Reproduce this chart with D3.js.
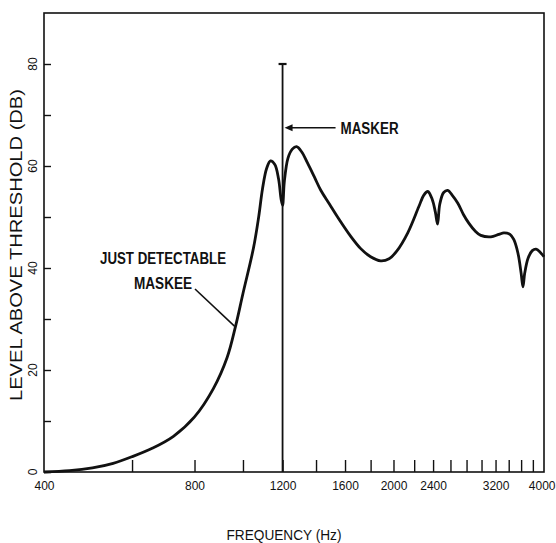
<!DOCTYPE html>
<html>
<head>
<meta charset="utf-8">
<script src="https://cdn.jsdelivr.net/npm/d3@7"></script>
<style>
  html, body { margin: 0; padding: 0; background: #fff; }
  svg { display: block; }
</style>
</head>
<body>
<svg id="chart" width="556" height="543"></svg>
<script>
// ---- data ----
const freqs = [400,450,500,550,600,660,726,800,872,930,966,1000,1050,1075,1094,1115,1135,1158,1178,1192,1200,1210,1230,1255,1280,1310,1346,1390,1430,1490,1546,1640,1720,1800,1885,1960,2030,2136,2247,2300,2342,2390,2425,2450,2475,2520,2568,2620,2690,2760,2829,2910,2990,3132,3250,3326,3420,3480,3548,3600,3631,3660,3720,3790,3856,3930,4000];
const levels = [0,0.25,0.8,1.7,3.0,4.7,7.0,10.8,16.3,22.5,28.5,35,44,50,55.5,59.5,61,60.3,57.5,53.5,52.3,57,61.5,63.3,63.8,62.8,60.6,57.8,55.3,52.5,50,46.3,43.8,42.2,41.4,41.8,43.3,46.9,52,54.3,55,53.5,51,48.6,52.5,54.8,55.2,54.3,52.7,50.5,48.8,47.3,46.4,46.1,46.6,46.9,46.6,45.6,42.9,39,36.3,39,42,43.4,43.7,43.1,42.2];
const xTickValues = [600,800,1000,1200,1400,1600,1800,2000,2200,2400,2600,2800,3000,3200,3400,3600,3800];
const xLabelValues = [400,800,1200,1600,2000,2400,3200,4000];
const yTickValues = [0,10,20,30,40,50,60,70,80];
const yLabelValues = [0,20,40,60,80];
const maskerFreq = 1200;
const maskerLevel = 80;
const maskeeAnnotFreq = 966;
const maskeeAnnotLevel = 29;
const maskerAnnotLevel = 67.5;

// ---- layout ----
const svg = d3.select("#chart");
const pLeft = 44, pRight = 544, pTop = 13, pBottom = 472;
const x = d3.scaleLog().domain([400, 4000]).range([pLeft, pRight]);
const y = d3.scaleLinear().domain([0, 90]).range([pBottom, pTop]);
const ink = "#111";
const narrow = "'Liberation Sans Narrow','Arial Narrow','Liberation Sans',Arial,sans-serif";

// frame
svg.append("rect")
  .attr("x", pLeft).attr("y", pTop)
  .attr("width", pRight - pLeft).attr("height", pBottom - pTop)
  .attr("fill", "none").attr("stroke", ink).attr("stroke-width", 1.6);

// x ticks (inward)
const xAxis = svg.append("g").attr("transform", `translate(0,${pBottom})`)
  .call(d3.axisBottom(x).tickValues(xTickValues).tickSizeInner(-12).tickSizeOuter(0).tickFormat(""));
xAxis.select(".domain").remove();
xAxis.selectAll(".tick line").attr("stroke", ink).attr("stroke-width", 1.4);

// x labels
const xLab = svg.append("g").attr("transform", `translate(0,${pBottom})`)
  .call(d3.axisBottom(x).tickValues(xLabelValues).tickSize(0).tickPadding(9).tickFormat(d3.format("d")));
xLab.select(".domain").remove();
xLab.attr("font-family", null).attr("font-size", null);
xLab.selectAll("text")
  .attr("font-size", 12).attr("fill", ink)
  .style("font-family", narrow)
  .attr("text-anchor", d => d === 4000 ? "end" : "middle")
  .attr("dx", d => d === 4000 ? 11 : 0);

// y ticks (inward)
const yAxis = svg.append("g").attr("transform", `translate(${pLeft},0)`)
  .call(d3.axisLeft(y).tickValues(yTickValues).tickSizeInner(-7).tickSizeOuter(0).tickFormat(""));
yAxis.select(".domain").remove();
yAxis.selectAll(".tick line").attr("stroke", ink).attr("stroke-width", 1.4);

// y labels (rotated)
svg.append("g").selectAll("text").data(yLabelValues).join("text")
  .attr("transform", d => `translate(37,${y(d)}) rotate(-90)`)
  .attr("text-anchor", "middle")
  .attr("font-size", 12).attr("fill", ink)
  .style("font-family", narrow)
  .text(d => d);

// y title
svg.append("text")
  .attr("transform", `translate(22,245) rotate(-90)`)
  .attr("text-anchor", "middle")
  .attr("font-size", 17).attr("fill", ink)
  .style("font-family", "'Liberation Sans',Arial,sans-serif")
  .attr("textLength", 312).attr("lengthAdjust", "spacingAndGlyphs")
  .text("LEVEL ABOVE THRESHOLD (DB)");

// x title
svg.append("text")
  .attr("x", 284).attr("y", 540)
  .attr("text-anchor", "middle")
  .attr("font-size", 15).attr("fill", ink)
  .style("font-family", narrow)
  .attr("textLength", 115).attr("lengthAdjust", "spacingAndGlyphs")
  .text("FREQUENCY (Hz)");

// masker line
svg.append("line")
  .attr("x1", x(maskerFreq)).attr("x2", x(maskerFreq))
  .attr("y1", y(maskerLevel)).attr("y2", y(0))
  .attr("stroke", ink).attr("stroke-width", 1.8);
svg.append("line")
  .attr("x1", x(maskerFreq) - 4).attr("x2", x(maskerFreq) + 4)
  .attr("y1", y(maskerLevel)).attr("y2", y(maskerLevel))
  .attr("stroke", ink).attr("stroke-width", 2.2);

// curve
const pts = freqs.map((f, i) => [f, levels[i]]);
svg.append("path")
  .datum(pts)
  .attr("d", d3.line().x(d => x(d[0])).y(d => y(d[1])).curve(d3.curveCatmullRom.alpha(0.5)))
  .attr("fill", "none").attr("stroke", ink).attr("stroke-width", 2.8)
  .attr("stroke-linejoin", "round");

// masker annotation arrow
const ay = y(maskerAnnotLevel);
const ax0 = x(maskerFreq) + 2;
svg.append("line")
  .attr("x1", ax0 + 6).attr("x2", ax0 + 51)
  .attr("y1", ay).attr("y2", ay)
  .attr("stroke", ink).attr("stroke-width", 1.5);
svg.append("path")
  .attr("d", `M${ax0},${ay} L${ax0 + 8},${ay - 3.5} L${ax0 + 8},${ay + 3.5} Z`)
  .attr("fill", ink);
svg.append("text")
  .attr("x", ax0 + 56).attr("y", ay + 6)
  .attr("font-size", 16).attr("font-weight", "bold").attr("fill", ink)
  .style("font-family", narrow)
  .attr("textLength", 58).attr("lengthAdjust", "spacingAndGlyphs")
  .text("MASKER");

// maskee annotation
svg.append("text")
  .attr("x", 163).attr("y", 264)
  .attr("text-anchor", "middle")
  .attr("font-size", 16).attr("font-weight", "bold").attr("fill", ink)
  .style("font-family", narrow)
  .attr("textLength", 126).attr("lengthAdjust", "spacingAndGlyphs")
  .text("JUST DETECTABLE");
svg.append("text")
  .attr("x", 163).attr("y", 289)
  .attr("text-anchor", "middle")
  .attr("font-size", 16).attr("font-weight", "bold").attr("fill", ink)
  .style("font-family", narrow)
  .attr("textLength", 58).attr("lengthAdjust", "spacingAndGlyphs")
  .text("MASKEE");
svg.append("line")
  .attr("x1", 195).attr("y1", 289)
  .attr("x2", x(maskeeAnnotFreq) - 1).attr("y2", y(maskeeAnnotLevel) + 2)
  .attr("stroke", ink).attr("stroke-width", 1.6);
</script>
</body>
</html>
